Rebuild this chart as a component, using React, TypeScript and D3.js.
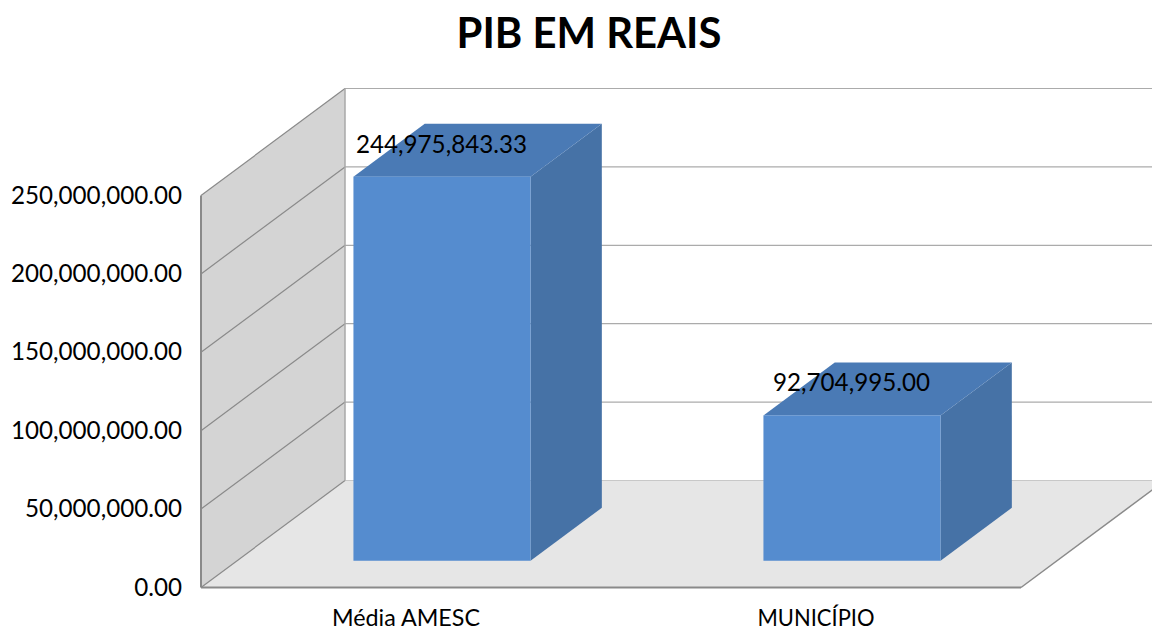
import React from "react";
import * as d3 from "d3";

const categories = ["Média AMESC", "MUNICÍPIO"];
const values = [244975843.33, 92704995.0];
const ticks = [0, 50000000, 100000000, 150000000, 200000000, 250000000];

const fmt = d3.format(",.2f");
const font = "Lato, 'Open Sans', sans-serif";

// the 3D box: front plane of the floor and the shift to the back wall
const depthX = 144;
const depthY = -107;

const x = d3.scaleBand<string>().domain(categories).range([201, 1021]).paddingInner(0.568).paddingOuter(0.284);
const y = d3.scaleLinear().domain([0, 250000000]).range([587.5, 195.5]);

// bars stand a quarter of the way into the floor and take half of the depth
const barZ0 = 0.25;
const barZ1 = 0.745;

// Lato runs a bit wider or narrower than the original font, so fit the category labels
const categoryWidths = [148, 117];

const poly = (pts: [number, number][]) => d3.line()(pts) + "Z";

const App = () => {
  const left = 201;
  const right = 1021;
  const y0 = y(0);
  const yTop = y(250000000);

  return (
    <svg width={1152} height={628} style={{ position: "absolute", left: 0, top: 0, background: "#fff" }}>
      <text x={589} y={48} textAnchor="middle" fontFamily={font} fontSize={41.8} fontWeight={700} fill="#000">
        PIB EM REAIS
      </text>

      {/* floor and side wall */}
      <path d={poly([[left, y0], [right, y0], [right + depthX, y0 + depthY], [left + depthX, y0 + depthY]])} fill="#e6e6e6" />
      <path d={poly([[left, y0], [left + depthX, y0 + depthY], [left + depthX, yTop + depthY], [left, yTop]])} fill="#d4d4d4" />

      {/* grid on the back wall and side wall */}
      {ticks.map((t) => (
        <g key={t}>
          <line x1={left + depthX} x2={1152} y1={y(t) + depthY} y2={y(t) + depthY} stroke={t === 0 ? "#c8c8c8" : "#ababab"} strokeWidth={1.2} />
          <line x1={left} x2={left + depthX} y1={y(t)} y2={y(t) + depthY} stroke="#8a8a8a" strokeWidth={1.2} />
        </g>
      ))}
      <line x1={left + depthX} x2={left + depthX} y1={yTop + depthY} y2={y0 + depthY} stroke="#a8a8a8" strokeWidth={1.5} />
      <line x1={left} x2={left} y1={yTop} y2={y0} stroke="#8a8a8a" strokeWidth={2} />
      <line x1={left} x2={right} y1={y0} y2={y0} stroke="#8a8a8a" strokeWidth={2} />
      <line x1={right} x2={right + depthX} y1={y0} y2={y0 + depthY} stroke="#8a8a8a" strokeWidth={1.5} />

      {/* bars */}
      {categories.map((c, i) => {
        const bx0 = x(c)! + depthX * barZ0;
        const bx1 = bx0 + x.bandwidth();
        const by0 = y0 + depthY * barZ0;
        const by1 = by0 - (y0 - y(values[i]));
        const dx = depthX * (barZ1 - barZ0);
        const dy = depthY * (barZ1 - barZ0);
        return (
          <g key={c}>
            <path d={poly([[bx1, by0], [bx1 + dx, by0 + dy], [bx1 + dx, by1 + dy], [bx1, by1]])} fill="#4672a6" />
            <path d={poly([[bx0, by1], [bx1, by1], [bx1 + dx, by1 + dy], [bx0 + dx, by1 + dy]])} fill="#4a7ab5" />
            <rect x={bx0} y={by1} width={bx1 - bx0} height={by0 - by1} fill="#558ccf" />
          </g>
        );
      })}

      {/* data labels */}
      {categories.map((c, i) => (
        <text
          key={c}
          x={x(c)! + x.bandwidth() / 2 + 35.5}
          y={y(values[i]) + depthY * barZ0 - 24}
          textAnchor="middle"
          fontFamily={font}
          fontSize={24.2}
          fill="#000"
        >
          {fmt(values[i])}
        </text>
      ))}

      {/* axis labels */}
      {ticks.map((t) => (
        <text key={t} x={182} y={y(t) + 8} textAnchor="end" fontFamily={font} fontSize={24.2} fill="#000">
          {fmt(t)}
        </text>
      ))}
      {categories.map((c, i) => (
        <text
          key={c}
          x={x(c)! + x.bandwidth() / 2}
          y={626}
          textAnchor="middle"
          fontFamily={font}
          fontSize={23}
          fill="#000"
          textLength={categoryWidths[i]}
          lengthAdjust="spacingAndGlyphs"
        >
          {c}
        </text>
      ))}
    </svg>
  );
};

export default App;
